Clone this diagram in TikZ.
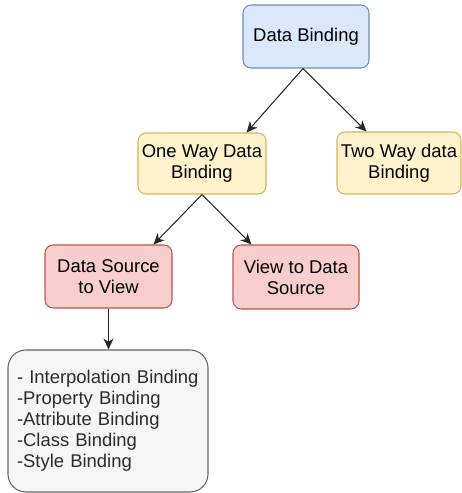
\documentclass[tikz,border=0pt]{standalone}
\usepackage{fontspec}
\setmainfont{Liberation Sans}
\usepackage{xcolor}
\usepackage{tikz}
\usetikzlibrary{arrows.meta,positioning,calc}
\definecolor{bFill}{HTML}{DAE8FC}
\definecolor{bLine}{HTML}{6C8EBF}
\definecolor{yFill}{HTML}{FFF2CC}
\definecolor{yLine}{HTML}{D6B656}
\definecolor{rFill}{HTML}{F8CECC}
\definecolor{rLine}{HTML}{B85450}
\definecolor{gFill}{HTML}{F5F5F5}
\definecolor{gLine}{HTML}{666666}
\definecolor{inkT}{HTML}{2B2B2B}
\newdimen\pxu
\pxu=0.02cm
\tikzset{
  bindbox/.style={draw, rounded corners=8\pxu, line width=0.6pt,
                  font=\fontsize{10.5}{12}\selectfont, align=center,
                  inner sep=0pt, text=black},
  rootbox/.style={bindbox, fill=bFill, draw=bLine},
  waybox/.style={bindbox, fill=yFill, draw=yLine},
  dirbox/.style={bindbox, fill=rFill, draw=rLine},
  listbox/.style={bindbox, fill=gFill, draw=gLine, align=left,
                  rounded corners=18\pxu, text=inkT, inner xsep=9\pxu},
  link/.style={-{Stealth[length=2.2mm, width=2mm, inset=0.7mm]},
               line width=0.6pt, color=black!85},
}

\begin{document}
\begin{tikzpicture}[x=0.02cm, y=-0.02cm]
  \useasboundingbox (0,0) rectangle (462,493);
  % boxes
  \node[rootbox, minimum width=126\pxu, minimum height=63\pxu] (bind) at (306,36.5) {Data Binding};
  \node[waybox, minimum width=128\pxu, minimum height=61\pxu] (oneway) at (202,163.5) {One Way Data\\Binding};
  \node[waybox, minimum width=124\pxu, minimum height=62\pxu] (twoway) at (399,163) {Two Way data\\Binding};
  \node[dirbox, minimum width=127\pxu, minimum height=63\pxu] (srcview) at (108.5,276.5) {Data Source\\to View};
  \node[dirbox, minimum width=126\pxu, minimum height=64\pxu] (viewsrc) at (296,277) {View to Data\\Source};
  \node[listbox, minimum width=200\pxu, minimum height=142\pxu, text width=182\pxu] (kinds) at (108,421)
    {- Interpolation Binding\\-Property Binding\\-Attribute Binding\\-Class Binding\\-Style Binding};
  % arrows
  \draw[link] ($(bind.south)+(-3,0)$) -- ($(oneway.north east)+(-20,0)$);
  \draw[link] ($(bind.south)+(-3,0)$) -- ($(twoway.north west)+(30,0)$);
  \draw[link] (oneway.south) -- ($(srcview.north east)+(-19,0)$);
  \draw[link] (oneway.south) -- ($(viewsrc.north west)+(19,0)$);
  \draw[link] (srcview.south) -- (srcview.south |- kinds.north);
\end{tikzpicture}
\end{document}
